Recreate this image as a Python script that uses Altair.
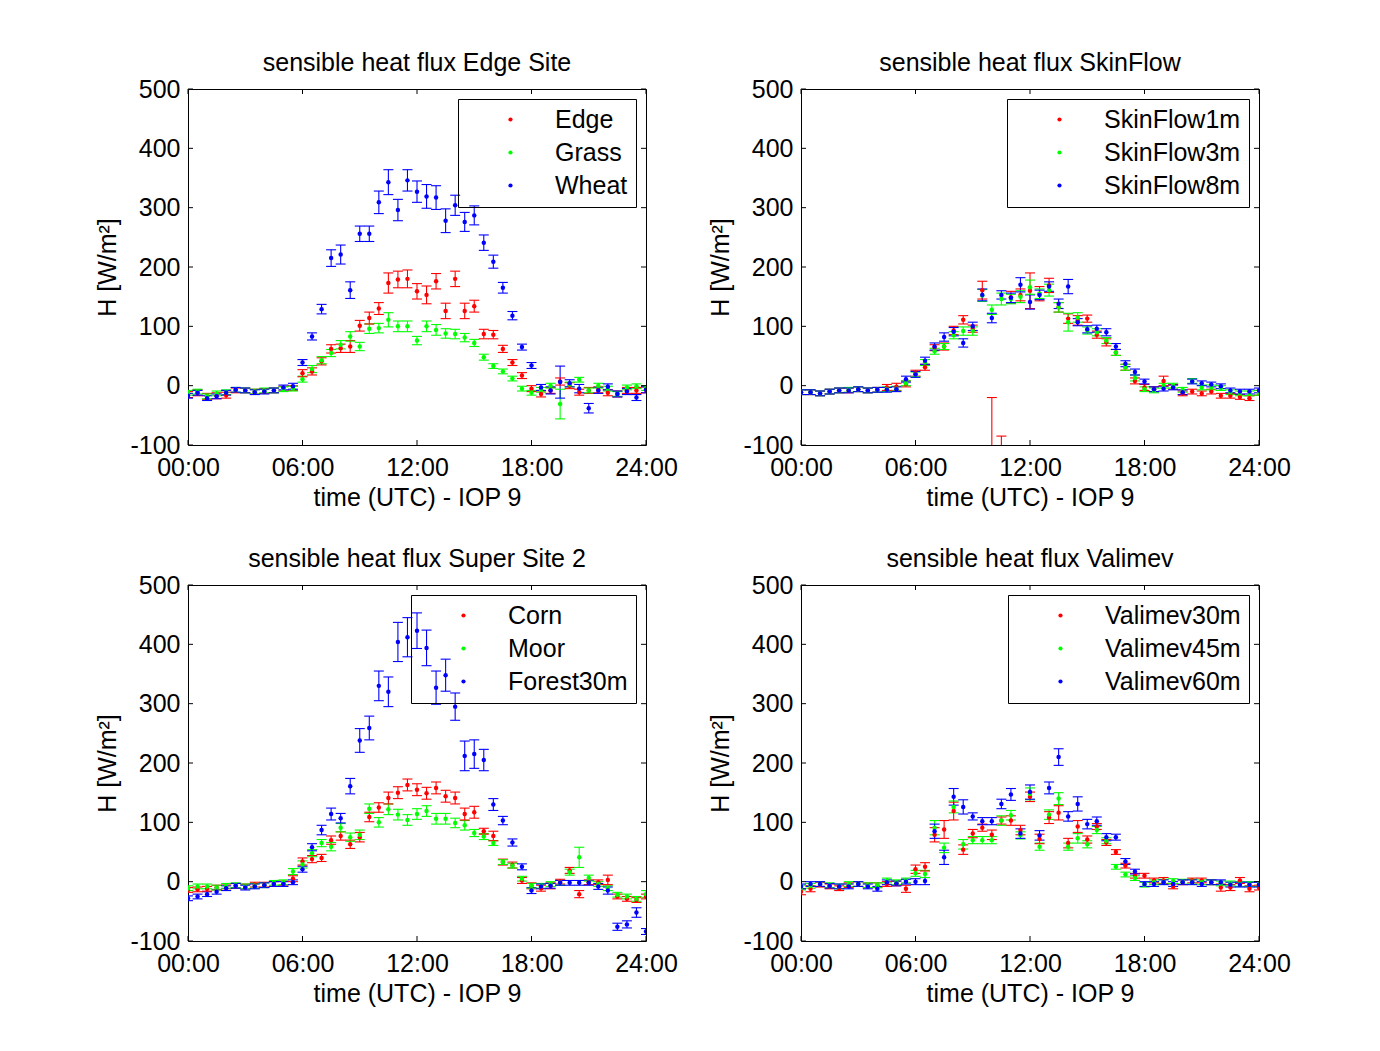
import altair as alt
import pandas as pd

# ---------------- data ----------------
T = [0, 0.5, 1, 1.5, 2, 2.5, 3, 3.5, 4, 4.5, 5, 5.5, 6, 6.5, 7, 7.5, 8, 8.5, 9, 9.5,
     10, 10.5, 11, 11.5, 12, 12.5, 13, 13.5, 14, 14.5, 15, 15.5, 16, 16.5, 17, 17.5,
     18, 18.5, 19, 19.5, 20, 20.5, 21, 21.5, 22, 22.5, 23, 23.5, 24]
X_TICKS = [0, 6, 12, 18, 24]
Y_TICKS = [-100, 0, 100, 200, 300, 400, 500]
COLORS = ["#ff0000", "#00ff00", "#0000ff"]

TITLES = ["sensible heat flux Edge Site", "sensible heat flux SkinFlow",
          "sensible heat flux Super Site 2", "sensible heat flux Valimev"]
NAMES = [["Edge", "Grass", "Wheat"],
         ["SkinFlow1m", "SkinFlow3m", "SkinFlow8m"],
         ["Corn", "Moor", "Forest30m"],
         ["Valimev30m", "Valimev45m", "Valimev60m"]]

# Edge site
EDGE = [-15,-12,-18,-17,-16,-8,-8,-10,-9,-8,-5,-4,21,24,41,62,63,66,101,114,130,173,179,180,159,153,176,126,180,126,134,87,86,62,39,17,-5,-14,-8,7,0,-11,-8,-7,-12,-14,-8,-8,-7]
GRASS = [-12,-10,-18,-13,-11,-7,-8,-10,-8,-8,-6,-5,11,28,43,55,69,83,66,96,97,111,100,100,76,100,94,88,87,81,72,48,33,24,12,-5,-12,-7,0,-31,2,10,-8,0,-5,-14,-3,-1,-4]
WHEAT = [-17,-12,-21,-18,-12,-7,-8,-11,-10,-8,-3,-1,39,83,129,215,221,161,256,256,309,343,296,346,327,319,317,278,304,276,287,241,209,165,118,65,34,-3,-8,6,4,-5,-38,-8,-2,-14,-10,-20,-7]
EDGE_ERR = [5,5,5,5,5,4,4,4,4,4,4,4,6,6,6,7,7,10,9,10,10,17,14,15,13,15,13,13,13,13,10,8,7,6,5,5,5,5,5,6,5,5,5,5,5,5,5,5,5]
GRASS_ERR = [4,4,4,4,4,4,4,4,4,4,4,4,5,6,6,6,7,8,7,8,8,12,9,9,7,9,9,8,8,7,6,5,4,4,4,4,4,4,4,25,4,4,4,4,4,4,4,4,4]
WHEAT_ERR = [4,4,4,4,4,4,4,4,4,4,4,5,5,6,8,14,16,14,13,13,19,21,18,18,18,20,20,20,17,16,16,13,11,9,7,5,5,5,6,27,6,7,8,5,5,5,5,5,5]

# SkinFlow
SF1 = [-11,-11,-13,-10,-8,-8,-6,-8,-7,-3,-2,3,21,31,64,66,93,111,96,161,-150,-130,149,153,160,155,169,132,113,110,113,86,73,56,31,8,-3,-6,8,-2,-13,-10,-13,-10,-17,-17,-19,-21,-12]
SF3 = [-11,-11,-13,-10,-8,-7,-6,-8,-7,-6,-5,4,19,39,58,66,85,92,92,152,128,146,146,150,166,155,161,132,107,115,93,90,76,56,31,13,-6,-8,0,0,-7,8,-3,-3,-4,-11,-13,-13,-12]
SF8 = [-11,-11,-13,-10,-8,-8,-6,-8,-7,-7,-6,11,19,42,66,82,91,72,100,153,114,153,148,170,141,153,167,138,167,107,95,96,90,66,37,23,7,-6,-5,-3,-11,7,4,2,-1,-8,-10,-10,-8]
SF1_ERR = [4,4,4,4,4,4,4,4,4,5,6,5,5,5,5,6,7,7,6,15,130,45,10,10,30,12,12,8,8,8,6,6,6,5,5,5,5,4,8,4,4,4,4,4,4,4,4,4,4]
SF3_ERR = [4,4,4,4,4,4,4,4,4,4,4,4,4,5,5,5,6,7,7,10,8,10,8,10,12,8,10,8,15,8,6,6,5,5,5,5,4,4,4,4,4,4,4,4,4,4,4,4,4]
SF8_ERR = [4,4,4,4,4,4,4,4,4,4,4,5,5,6,6,7,7,7,7,10,8,7,8,12,12,8,8,8,12,6,6,6,6,5,5,5,4,4,4,4,4,4,4,4,4,4,4,4,4]

# Super Site 2
CORN = [-14,-13,-12,-10,-8,-7,-8,-5,-5,-4,-3,5,34,38,40,70,77,63,75,109,125,141,150,163,155,149,158,144,141,114,117,85,77,33,28,2,-7,-11,-7,0,19,-21,-1,-1,3,-25,-29,-31,-25]
MOOR = [-11,-8,-8,-10,-7,-6,-8,-7,-6,-2,-1,17,29,48,65,59,91,75,79,123,100,122,113,104,114,119,106,106,99,95,82,76,65,33,27,5,-7,-7,-4,-2,16,41,6,-4,-11,-22,-25,-29,-21]
FOREST = [-28,-25,-21,-17,-11,-7,-10,-8,-6,-4,-4,-1,21,58,87,114,107,161,238,259,330,320,404,412,423,394,327,348,295,212,215,205,130,103,66,25,-15,-8,-7,-2,-2,-2,-2,-8,-15,-76,-72,-52,-84]
CORN_ERR = [4,4,4,4,4,4,4,4,4,4,4,5,6,6,6,7,7,7,8,8,8,10,10,10,10,10,10,10,10,10,10,5,8,5,5,5,5,5,5,4,5,6,4,4,8,4,4,4,4]
MOOR_ERR = [4,4,4,4,4,4,4,4,4,4,4,5,6,6,6,7,7,7,8,8,8,9,9,9,9,9,9,9,8,8,6,5,4,4,4,4,4,4,4,4,5,17,5,4,4,4,4,4,6]
FOREST_ERR = [4,4,4,4,4,4,4,4,4,4,4,4,5,6,8,10,8,13,20,20,25,25,33,33,30,30,28,27,23,25,24,18,10,7,6,5,5,4,4,4,4,4,4,5,6,6,6,8,5]

# Valimev
V30 = [-17,-12,-5,-8,-11,-6,-4,-6,-6,-4,-3,-12,21,25,79,88,119,54,81,91,79,103,103,87,143,72,108,116,65,93,71,93,66,50,27,10,10,2,2,-8,-1,2,2,-1,-10,-10,2,-12,-10]
V45 = [-10,-7,-4,-6,-8,-4,-4,-6,-6,2,-1,2,14,13,91,57,126,63,70,70,70,103,112,78,148,59,113,140,59,73,63,87,69,25,12,6,-5,-1,0,1,0,0,-1,-1,-3,-3,-4,-4,-4]
V60 = [-8,-4,-4,-7,-8,-8,-4,-8,-12,-1,-3,0,0,1,85,41,143,126,110,102,102,131,147,81,151,78,158,210,110,131,97,102,75,75,34,17,-4,-4,-1,-4,-1,-1,-4,-1,-1,-5,-5,-5,-5]
V30_ERR = [5,5,4,4,4,4,4,4,4,4,4,6,7,7,12,15,15,8,7,6,8,6,8,8,8,8,10,12,8,10,6,5,5,4,4,4,4,4,5,4,4,4,4,4,6,5,5,5,4]
V45_ERR = [4,4,4,4,4,4,4,4,4,4,4,4,5,6,12,8,10,8,6,6,6,8,8,6,10,6,8,10,6,8,6,6,5,4,4,4,4,4,4,4,4,4,4,4,4,4,4,4,4]
V60_ERR = [4,4,4,4,4,4,4,4,4,4,4,4,5,6,12,12,14,12,6,6,6,8,10,8,12,8,10,14,8,12,8,7,6,5,5,4,4,4,4,4,4,4,4,4,4,4,4,4,4]

SERIES = [[EDGE, GRASS, WHEAT], [SF1, SF3, SF8], [CORN, MOOR, FOREST], [V30, V45, V60]]
ERRORS = [[EDGE_ERR, GRASS_ERR, WHEAT_ERR], [SF1_ERR, SF3_ERR, SF8_ERR],
          [CORN_ERR, MOOR_ERR, FOREST_ERR], [V30_ERR, V45_ERR, V60_ERR]]

# ---------------- style ----------------
W, H = 458, 356
FONT = "Liberation Sans"
FS = 25
TICK = 5


def panel(title, names, series, errs):
    rows = []
    for name, vals, err in zip(names, series, errs):
        for t, v, e in zip(T, vals, err):
            rows.append({"t": t, "v": v, "e": e, "s": name})
    df = pd.DataFrame(rows)

    xs = alt.Scale(domain=[0, 24], nice=False, zero=False)
    ys = alt.Scale(domain=[-100, 500], nice=False, zero=False)
    xaxis = alt.Axis(values=X_TICKS, title="time (UTC) - IOP 9",
                     labelExpr="(datum.value < 10 ? '0' : '') + datum.value + ':00'",
                     labelFlush=False, labelOverlap=False, labelBound=False,
                     tickSize=0, ticks=False, domain=False, grid=False,
                     labelPadding=10, titlePadding=5)
    yaxis = alt.Axis(values=Y_TICKS, title="H [W/m²]", labelExpr="datum.value + ''",
                     labelFlush=False, labelOverlap=False, tickSize=0, ticks=False,
                     domain=False, grid=False, labelPadding=8, titlePadding=9)
    cscale = alt.Scale(domain=names, range=COLORS)
    # same colours, listed in reverse so the error-bar scale keeps no legend of its own
    sscale = alt.Scale(domain=names[::-1], range=COLORS[::-1])

    base = alt.Chart(df).transform_calculate(lo="datum.v - datum.e", hi="datum.v + datum.e")
    xenc = alt.X("t:Q", scale=xs, axis=xaxis)
    stroke = alt.Stroke("s:N", scale=sscale, legend=None)

    bars = base.mark_rule(clip=True, strokeWidth=1.1).encode(
        x=xenc, y=alt.Y("lo:Q", scale=ys, axis=yaxis), y2="hi:Q", stroke=stroke)
    cap_hi = base.mark_rule(clip=True, strokeWidth=1.1, xOffset=-5, x2Offset=5).encode(
        x=xenc, x2="t:Q", y=alt.Y("hi:Q", scale=ys, axis=yaxis), stroke=stroke)
    cap_lo = base.mark_rule(clip=True, strokeWidth=1.1, xOffset=-5, x2Offset=5).encode(
        x=xenc, x2="t:Q", y=alt.Y("lo:Q", scale=ys, axis=yaxis), stroke=stroke)
    pts = base.mark_circle(clip=True, size=20, opacity=1).encode(
        x=xenc, y=alt.Y("v:Q", scale=ys, axis=yaxis),
        color=alt.Color("s:N", scale=cscale, sort=names,
                        legend=alt.Legend(title=None, orient="top-right", offset=10,
                                          strokeColor="black", padding=8,
                                          labelFont=FONT, labelFontSize=FS,
                                          labelColor="black", symbolType="circle",
                                          symbolSize=18, symbolStrokeWidth=0,
                                          symbolOffset=32, labelOffset=32,
                                          rowPadding=7, labelLimit=400)))

    xt = pd.DataFrame({"t": X_TICKS})
    yt = pd.DataFrame({"v": Y_TICKS})
    tb = alt.Chart(xt).mark_rule(color="black").encode(
        x=alt.X("t:Q", scale=xs, axis=xaxis), y=alt.value(H), y2=alt.value(H - TICK))
    tt = alt.Chart(xt).mark_rule(color="black").encode(
        x=alt.X("t:Q", scale=xs, axis=xaxis), y=alt.value(0), y2=alt.value(TICK))
    tl = alt.Chart(yt).mark_rule(color="black").encode(
        y=alt.Y("v:Q", scale=ys, axis=yaxis), x=alt.value(0), x2=alt.value(TICK))
    tr = alt.Chart(yt).mark_rule(color="black").encode(
        y=alt.Y("v:Q", scale=ys, axis=yaxis), x=alt.value(W), x2=alt.value(W - TICK))

    return alt.layer(bars, cap_hi, cap_lo, pts, tb, tt, tl, tr).properties(
        width=W, height=H,
        title=alt.TitleParams(title, font=FONT, fontSize=FS, fontWeight="normal",
                              color="black", offset=1))


panels = [panel(TITLES[i], NAMES[i], SERIES[i], ERRORS[i]) for i in range(4)]

row1 = alt.hconcat(panels[0], panels[1], spacing=30).resolve_scale(
    color="independent", stroke="independent").resolve_legend(
    color="independent", stroke="independent")
row2 = alt.hconcat(panels[2], panels[3], spacing=30).resolve_scale(
    color="independent", stroke="independent").resolve_legend(
    color="independent", stroke="independent")

chart = alt.vconcat(row1, row2, spacing=35).resolve_scale(
    color="independent", stroke="independent").resolve_legend(
    color="independent", stroke="independent").properties(
    padding={"left": 87, "top": 42, "right": 5, "bottom": 5},
    background="white"
).configure_axis(
    labelFont=FONT, labelFontSize=FS, labelColor="black",
    titleFont=FONT, titleFontSize=FS, titleColor="black", titleFontWeight="normal"
).configure_view(stroke="black", strokeWidth=1)

chart.save("out.html", embed_options={"renderer": "svg", "actions": False})
